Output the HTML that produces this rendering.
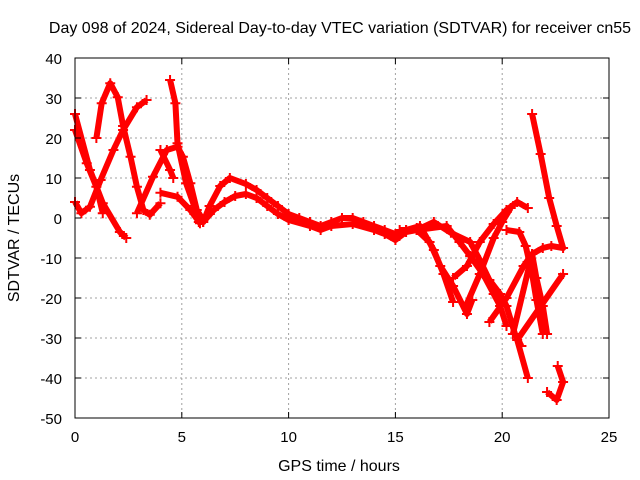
<!DOCTYPE html>
<html><head><meta charset="utf-8"><style>
html,body{margin:0;padding:0;background:#fff;}
svg{display:block;font-family:"Liberation Sans",sans-serif;}
</style></head><body>
<svg id="chart" width="640" height="480">
<rect width="640" height="480" fill="#fff"/>
<text x="340" y="33" text-anchor="middle" font-size="16">Day 098 of 2024, Sidereal Day-to-day VTEC variation (SDTVAR) for receiver cn55</text>
<g id="grid"></g>
<g id="series"></g>
<rect x="75" y="58" width="534" height="360" fill="none" stroke="#000" stroke-width="1"/>
<g id="ticks"></g>
<text x="339" y="471" text-anchor="middle" font-size="16">GPS time / hours</text>
<text transform="translate(19,238) rotate(-90)" text-anchor="middle" font-size="16">SDTVAR / TECUs</text>
</svg>
<script>
const xTicks = [0,5,10,15,20,25];
const yTicks = [40,30,20,10,0,-10,-20,-30,-40,-50];
const seriesHours = [
 [0,0.7,1.3,2.1,2.4],
 [0,0.55,1,1.3],
 [0,0.3,0.7,1.2,1.8,2.25,2.9,3.35],
 [1,1.25,1.65,2,2.25,2.6,2.9,3.2,3.5,4],
 [2.9,3.65,4.3,4.8,5.05,5.4,5.7,6],
 [4,4.45,4.6],
 [4.45,4.7,4.8,5.2,5.7],
 [4,4.8,5.4,5.85],
 [5.8,6,6.3,6.8,7.25,8,8.5,9,9.5,10,10.5,11,11.5,12,12.5,13,13.5,14,14.5,15,15.5,16],
 [5.8,6,6.5,7,7.5,8,8.5,9,9.5,10,11,11.5,12,13,14,14.5,15,15.5,16],
 [15.2,16,16.8,17.6,18.5,18.95,19.4,19.9,20.2,20.6,20.9],
 [16,17.4,18,18.5,19.1,19.6,19.9,20.2],
 [15.5,16.15,16.8,17.25,17.7],
 [16,16.6,17.1,17.7,18.35,18.6],
 [17.7,18.35,18.95,19.6,20.2,20.7,21.2],
 [18.3,18.95,19.6,20,20.4],
 [19.4,20.2,21,21.4],
 [20.2,20.8,21.1,21.4,21.6,21.9],
 [22.85,20.7,21.2],
 [20.5,21.4],
 [21.4,21.8,22.2,22.55,22.85,22.3,21.9,21.4,21.6,21.9,22.1],
 [22.6,22.85,22.55,22.1]
];
const seriesValues = [
 [26,12,3.7,-3.5,-5],
 [22,13.7,7.8,1.2],
 [4,1.2,2.8,9.5,17,22,27.7,29.5],
 [20,28.7,33.7,30.2,23,15.3,7.8,2,0.8,3.7],
 [1.2,10.3,17,17.8,15.3,8.7,2,-0.5],
 [17,12,10],
 [34.5,28.7,18.7,8.7,1.2],
 [6.3,5.3,2,-1.3],
 [-1,-1,3,8,10,8.5,7,5,3,1,0,-1,-2,-1,0,0,-1,-2,-3,-4,-3,-2.5],
 [-1,-1,2,4,5.5,6,5,3,1,-0.5,-2,-3,-2,-1.5,-3,-4,-5.5,-3.5,-3],
 [-3,-3,-1,-3.7,-6,-10.5,-15.5,-19,-22,-29,-32],
 [-3,-2,-6,-9.5,-14,-19,-22,-27],
 [-3,-2,-8,-14,-21],
 [-3,-6,-12,-17,-24,-20.5],
 [-15,-12,-6,-1.5,2,4,2.5],
 [-22,-14,-5,-1,2.5],
 [-26,-20,-12,-9],
 [-3,-3.5,-7,-14,-20.5,-29],
 [-14,-30.5,-40],
 [-29,-9],
 [26,16,5,-2,-7.5,-7,-7.5,-9,-15,-22,-29],
 [-37,-41,-45.5,-43.5]
];
const X0=75, X1=609, Y0=418, Y1=58, XMIN=0, XMAX=25, YMIN=-50, YMAX=40;
function xs(h){return X0+(h-XMIN)/(XMAX-XMIN)*(X1-X0);}
function ys(v){return Y0-(v-YMIN)/(YMAX-YMIN)*(Y0-Y1);}
const NS='http://www.w3.org/2000/svg';
const grid=document.getElementById('grid'), ticks=document.getElementById('ticks'), ser=document.getElementById('series');
function mk(tag,attrs,parent){const e=document.createElementNS(NS,tag);for(const k in attrs)e.setAttribute(k,attrs[k]);parent.appendChild(e);return e;}
xTicks.forEach(t=>{
 const x=xs(t);
 if(t>XMIN&&t<XMAX){const g=mk('line',{x1:x,y1:Y1,x2:x,y2:Y0,stroke:'#a0a0a0','stroke-dasharray':'2,3'},grid);
 
 }
 const l=mk('line',{x1:x,y1:Y0,x2:x,y2:Y0-6,stroke:'#000'},ticks);
 
 
 const l2=mk('line',{x1:x,y1:Y1,x2:x,y2:Y1+6,stroke:'#000'},ticks);
 
 
 const tx=mk('text',{x:x,y:442,'text-anchor':'middle','font-size':'15'},ticks);tx.textContent=t;
 
 
});
yTicks.forEach(t=>{
 const y=ys(t);
 if(t>YMIN&&t<YMAX){const g=mk('line',{x1:X0,y1:y,x2:X1,y2:y,stroke:'#a0a0a0','stroke-dasharray':'2,3'},grid);
 
 }
 const l=mk('line',{x1:X0,y1:y,x2:X0+6,y2:y,stroke:'#000'},ticks);
 
 
 const l2=mk('line',{x1:X1,y1:y,x2:X1-6,y2:y,stroke:'#000'},ticks);
 
 
 const tx=mk('text',{x:62,y:y+6,'text-anchor':'end','font-size':'15'},ticks);tx.textContent=t;
 
 
});
seriesHours.forEach((hs,i)=>{
 const vs=seriesValues[i];
 const pts=hs.map((h,j)=>xs(h).toFixed(1)+','+ys(vs[j]).toFixed(1)).join(' ');
 const p=mk('polyline',{points:pts,fill:'none',stroke:'#ff0000','stroke-width':'6','stroke-linejoin':'round','stroke-linecap':'butt'},ser);
 
 
 hs.forEach((h,j)=>{
  const x=xs(h),y=ys(vs[j]);
  const m=mk('path',{d:`M${x-5},${y}H${x+5}M${x},${y-5}V${y+5}`,stroke:'#ff0000','stroke-width':'2'},ser);
  
  
 });
});
</script>
</body></html>
